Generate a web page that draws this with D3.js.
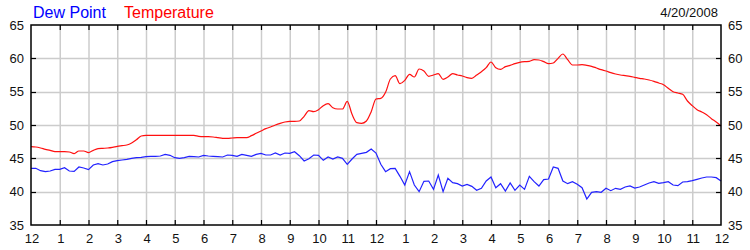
<!DOCTYPE html>
<html>
<head>
<meta charset="utf-8">
<script src="https://cdn.jsdelivr.net/npm/d3@7"></script>
<style>
  body { margin: 0; background: #fff; }
  text { font-family: "Liberation Sans", Arial, sans-serif; }
</style>
</head>
<body>
<div id="chart"></div>
<script>
// readings every 10 minutes, midnight to midnight
var hourLabels = ["12","1","2","3","4","5","6","7","8","9","10","11","12","1","2","3","4","5","6","7","8","9","10","11","12"];
var yTicks = [35, 40, 45, 50, 55, 60, 65];
var dateLabel = "4/20/2008";

var temperature = [
  46.75, 46.7, 46.55, 46.35, 46.2, 46.0, 46.0, 46.0, 45.95, 45.7, 46.1, 46.1,
  45.85, 46.2, 46.45, 46.5, 46.55, 46.65, 46.8, 46.9, 47.0, 47.3, 47.8, 48.35,
  48.45, 48.45, 48.45, 48.45, 48.45, 48.45, 48.45, 48.45, 48.45, 48.45, 48.45, 48.3,
  48.25, 48.25, 48.2, 48.1, 48.0, 48.0, 48.05, 48.1, 48.1, 48.1, 48.4, 48.75,
  49.1, 49.45, 49.7, 50.0, 50.25, 50.45, 50.55, 50.55, 50.6, 51.3, 52.15, 52.0,
  52.3, 52.9, 53.2, 52.6, 52.4, 52.4, 53.55, 51.6, 50.35, 50.25, 50.6, 52.0,
  53.9, 54.0, 54.9, 56.9, 57.4, 56.2, 56.7, 57.6, 57.2, 58.4, 58.1, 57.3,
  57.5, 57.7, 56.85, 57.2, 57.7, 57.5, 57.35, 57.1, 57.0, 57.5, 58.0, 58.6,
  59.45, 58.6, 58.35, 58.75, 58.95, 59.2, 59.4, 59.5, 59.55, 59.8, 59.75, 59.5,
  59.2, 59.3, 60.0, 60.65, 59.8, 59.0, 59.0, 59.05, 58.95, 58.8, 58.55, 58.3,
  58.1, 57.85, 57.65, 57.5, 57.4, 57.3, 57.15, 57.0, 56.9, 56.75, 56.55, 56.3,
  56.05, 55.5, 55.0, 54.8, 54.6, 53.6, 52.9, 52.3, 51.95, 51.55, 50.95, 50.45,
  49.85
];

var dewPoint = [
  43.5, 43.5, 43.15, 43.0, 43.1, 43.35, 43.35, 43.6, 43.1, 43.05, 43.7, 43.55,
  43.3, 44.0, 44.2, 44.0, 44.15, 44.5, 44.65, 44.75, 44.85, 45.0, 45.1, 45.15,
  45.25, 45.3, 45.3, 45.35, 45.6, 45.45, 45.1, 45.0, 45.1, 45.3, 45.25, 45.2,
  45.45, 45.35, 45.3, 45.25, 45.2, 45.5, 45.45, 45.3, 45.6, 45.45, 45.3, 45.6,
  45.75, 45.5, 45.5, 45.8, 45.5, 45.8, 45.75, 46.0, 45.4, 44.6, 44.95, 45.5,
  45.45, 44.7, 45.2, 44.9, 45.2, 45.0, 44.1, 44.9, 45.6, 45.75, 45.9, 46.4,
  45.8, 44.1, 43.0, 43.45, 43.5, 42.3, 41.0, 43.0, 41.0, 40.0, 41.55, 41.6,
  40.35, 42.5, 40.0, 42.0, 41.35, 41.2, 40.85, 41.1, 40.8, 40.2, 40.5, 41.6,
  42.2, 40.6, 41.2, 40.1, 41.3, 40.2, 41.0, 40.35, 42.3, 41.5, 40.85, 41.8,
  41.9, 43.7, 43.5, 41.6, 41.2, 41.5, 41.1, 40.6, 38.9, 39.9, 40.0, 39.9,
  40.5, 40.15, 40.5, 40.35, 40.7, 40.85, 40.55, 40.7, 41.0, 41.3, 41.5, 41.25,
  41.35, 41.5, 41.0, 40.9, 41.45, 41.5, 41.65, 41.85, 42.05, 42.2, 42.2, 42.1,
  41.6
];

var W = 750, H = 250;
var margin = { top: 25, right: 29, bottom: 25, left: 31 }; // plot box 31..721 x 25..225
var width = W - margin.left - margin.right;
var height = H - margin.top - margin.bottom;

var svg = d3.select("#chart").append("svg")
    .attr("width", W)
    .attr("height", H);

var g = svg.append("g")
    .attr("transform", "translate(" + margin.left + "," + margin.top + ")");

var x = d3.scaleLinear().domain([0, 24]).range([0, width]);
var y = d3.scaleLinear().domain([35, 65]).range([height, 0]);

var hours = d3.range(25);

// grid
g.append("g").selectAll("line")
    .data(hours.slice(1, 24))
    .enter().append("line")
    .attr("x1", d => x(d) + 0.5).attr("x2", d => x(d) + 0.5)
    .attr("y1", 0).attr("y2", height)
    .attr("stroke", "#cccccc").attr("stroke-width", 1.5);

g.append("g").selectAll("line")
    .data(yTicks.slice(1, -1))
    .enter().append("line")
    .attr("x1", 0).attr("x2", width)
    .attr("y1", d => Math.round(y(d)) + 0.5).attr("y2", d => Math.round(y(d)) + 0.5)
    .attr("stroke", "#cccccc").attr("stroke-width", 1.5);

// series
var idxX = (d, i) => x(i / 6);

g.append("path")
    .datum(dewPoint)
    .attr("fill", "none")
    .attr("stroke", "#2222ff")
    .attr("stroke-width", 1.2)
    .attr("d", d3.line().x(idxX).y(d => y(d)));

g.append("path")
    .datum(temperature)
    .attr("fill", "none")
    .attr("stroke", "#ff1010")
    .attr("stroke-width", 1.2)
    .attr("d", d3.line().x(idxX).y(d => y(d)).curve(d3.curveMonotoneX));

// frame
g.append("rect")
    .attr("x", 0).attr("y", 0)
    .attr("width", width).attr("height", height)
    .attr("fill", "none").attr("stroke", "#000").attr("stroke-width", 1.5);

// inner tick marks, top and bottom
var ticksG = g.append("g").attr("stroke", "#000").attr("stroke-width", 1.2);
hours.slice(1, 24).forEach(function(h) {
    ticksG.append("line").attr("x1", x(h) + 0.5).attr("x2", x(h) + 0.5).attr("y1", 0).attr("y2", 5);
    ticksG.append("line").attr("x1", x(h) + 0.5).attr("x2", x(h) + 0.5).attr("y1", height - 5).attr("y2", height);
});
yTicks.slice(1, -1).forEach(function(v) {
    var yy = Math.round(y(v)) + 0.5;
    ticksG.append("line").attr("x1", 0).attr("x2", 5).attr("y1", yy).attr("y2", yy);
    ticksG.append("line").attr("x1", width - 5).attr("x2", width).attr("y1", yy).attr("y2", yy);
});

// x labels
g.append("g").selectAll("text")
    .data(hours)
    .enter().append("text")
    .attr("x", d => x(d) + 1)
    .attr("y", height + 18)
    .attr("text-anchor", "middle")
    .style("font-size", "13px")
    .style("fill", "#111")
    .text((d, i) => hourLabels[i]);

// y labels left and right
g.append("g").selectAll("text")
    .data(yTicks)
    .enter().append("text")
    .attr("x", -7)
    .attr("y", d => y(d) + 4.5)
    .attr("text-anchor", "end")
    .style("font-size", "13px")
    .style("fill", "#111")
    .text(d => d);

g.append("g").selectAll("text")
    .data(yTicks)
    .enter().append("text")
    .attr("x", width + 7)
    .attr("y", d => y(d) + 4.5)
    .attr("text-anchor", "start")
    .style("font-size", "13px")
    .style("fill", "#111")
    .text(d => d);

// legend and date
svg.append("text")
    .attr("x", 33).attr("y", 18)
    .style("font-size", "16px")
    .style("fill", "#0000ff")
    .text("Dew Point");

svg.append("text")
    .attr("x", 124).attr("y", 18)
    .style("font-size", "16px")
    .style("fill", "#ff0000")
    .text("Temperature");

svg.append("text")
    .attr("x", 718).attr("y", 17)
    .attr("text-anchor", "end")
    .style("font-size", "13px")
    .style("fill", "#111")
    .text(dateLabel);
</script>
</body>
</html>
